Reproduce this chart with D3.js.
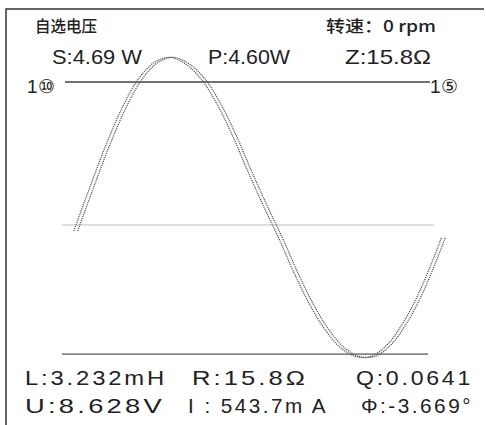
<!DOCTYPE html>
<html><head><meta charset="utf-8">
<script src="https://cdn.jsdelivr.net/npm/d3@7"></script>
<style>
html,body{margin:0;padding:0;background:#fff;}
svg{display:block;}
text{font-family:"Liberation Sans",Arial,sans-serif;fill:#222;}
.cjk{font-family:"Noto Sans CJK SC",sans-serif;}
</style></head><body>
<svg id="c" width="486" height="425"></svg>
<script>
// waveform phase (degrees) and voltage samples (V)
const phaseDeg = [-2,0,15,30,45,60,75,90,105,120,135,150,165,180,195,210,225,240,255,270,285,300,315,330,345,352];
const voltage  = [-0.43,0,3.07,6.02,8.58,10.58,11.76,12.15,11.69,10.62,8.87,6.58,3.96,1.45,-0.93,-3.48,-5.77,-7.61,-8.91,-9.55,-9.49,-8.64,-7.07,-4.93,-2.25,-0.87];
const phaseShift = [0, 3.669]; // two traces (U, I)
// reference lines: value, start/end phase
const refValues = [10.36, 0, -9.35];
const refStart = [-10.6, -13.5, -13.5];
const refEnd = [340.7, 344.5, 338.8];
const refLabelsLeft = ["1⑩"];
const refLabelsRight = ["1⑤"];
const header = ["自选电压", "转速：0 rpm"];
const topVals = ["S:4.69 W", "P:4.60W", "Z:15.8Ω"];
const bottomRow1 = ["L:3.232mH", "R:15.8Ω", "Q:0.0641"];
const bottomRow2 = ["U:8.628V", "I : 543.7m A", "Φ:-3.669°"];

const svg = d3.select("#c");
const x = d3.scaleLinear().domain([0,360]).range([76,450]);
const y = d3.scaleLinear().domain([-12,12]).range([390.6,59.4]);

// frame
svg.append("path").attr("d","M6,425 L6,9 L484,9").attr("fill","none").attr("stroke","#333").attr("stroke-width",1.5);

// reference lines
const refStyle = [{c:"#444",w:1.4},{c:"#bbb",w:1},{c:"#888",w:1.8}];
refValues.forEach((v,i)=>{
  svg.append("line").attr("x1",x(refStart[i])).attr("x2",x(refEnd[i]))
    .attr("y1",y(v)).attr("y2",y(v)).attr("stroke",refStyle[i].c).attr("stroke-width",refStyle[i].w);
});

// waveform traces
const pts = phaseDeg.map((p,i)=>[p,voltage[i]]);
phaseShift.forEach(s=>{
  const line = d3.line().x(d=>x(d[0]+s)).y(d=>y(d[1])).curve(d3.curveCatmullRom);
  svg.append("path").attr("d",line(pts)).attr("fill","none")
    .attr("stroke","#555").attr("stroke-width",1.2).attr("stroke-dasharray","1.2,0.9");
});

// texts
svg.append("text").attr("class","cjk").attr("x",35).attr("y",32).attr("font-size",15.5).attr("font-weight",500).text(header[0]);
svg.append("text").attr("class","cjk").attr("x",326).attr("y",32).attr("font-size",16).attr("font-weight",500)
  .attr("textLength",110).attr("lengthAdjust","spacingAndGlyphs").text(header[1]);

const topX=[52,208,345], topW=[90,82,86];
topVals.forEach((t,i)=>svg.append("text").attr("x",topX[i]).attr("y",64).attr("font-size",21)
  .attr("textLength",topW[i]).attr("lengthAdjust","spacingAndGlyphs").text(t));

svg.append("text").attr("x",27).attr("y",93).attr("font-size",19).text(refLabelsLeft[0]);
svg.append("text").attr("x",430).attr("y",93).attr("font-size",19).text(refLabelsRight[0]);

const bX=[25,192,356], bW1=[142,116,117], bW2=[140,140,112];
const bX2=[25,188,361];
bottomRow1.forEach((t,i)=>svg.append("text").attr("x",bX[i]).attr("y",385).attr("font-size",21)
  .style("letter-spacing","2.5px")
  .attr("textLength",bW1[i]).attr("lengthAdjust","spacingAndGlyphs").text(t));
bottomRow2.forEach((t,i)=>svg.append("text").attr("x",bX2[i]).attr("y",413).attr("font-size",21)
  .style("letter-spacing","2.5px")
  .attr("textLength",bW2[i]).attr("lengthAdjust","spacingAndGlyphs").text(t));
</script></body></html>
